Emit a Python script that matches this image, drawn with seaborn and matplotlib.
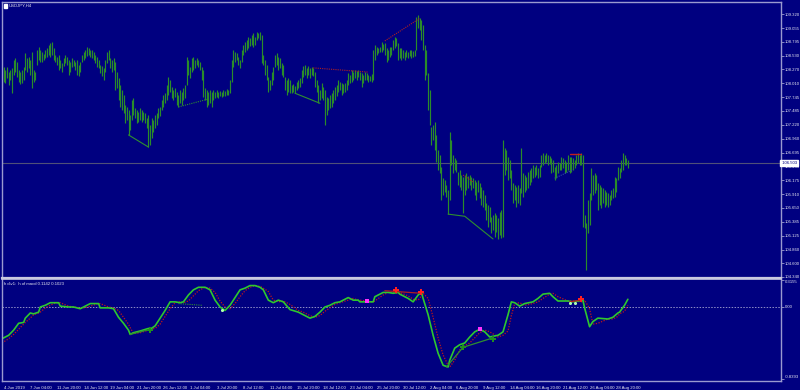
import matplotlib
matplotlib.use("Agg")
import matplotlib.pyplot as plt
import matplotlib.transforms as mtransforms
import numpy as np
import pandas as pd
import seaborn as sns

# ---------------- data ----------------
symbol_title = "USDJPY,H4"
ind_title = "h div1:  h of macd 0.1142 0.1023"

highs = [
108.30,108.32,108.26,108.32,108.22,108.26,108.30,108.45,108.49,108.41,108.26,108.22,
108.26,108.32,108.58,108.49,108.50,108.45,108.60,108.26,108.22,108.64,108.69,108.64,
108.60,108.56,108.64,108.68,108.73,108.77,108.79,108.68,108.54,108.50,108.54,108.45,
108.39,108.49,108.54,108.50,108.45,108.41,108.49,108.45,108.41,108.45,108.35,108.41,
108.54,108.60,108.64,108.69,108.68,108.64,108.64,108.60,108.54,108.50,108.45,108.35,
108.34,108.30,108.45,108.60,108.64,108.49,108.45,108.49,108.41,108.22,108.11,107.98,
107.88,107.79,107.60,107.56,107.50,107.41,107.69,107.73,107.54,107.50,107.46,107.54,
107.50,107.46,107.44,107.35,107.41,107.22,107.35,107.31,107.41,107.44,107.54,107.56,
107.69,107.79,107.82,107.98,108.13,108.07,107.94,107.88,107.92,107.84,107.79,107.88,
107.84,107.92,107.98,108.50,108.45,108.32,108.49,108.50,108.45,108.49,108.45,108.41,
108.32,108.26,107.92,107.88,107.84,107.88,107.84,107.88,107.84,107.88,107.84,107.86,
107.84,107.88,107.86,107.90,107.88,108.07,108.45,108.64,108.60,108.58,108.50,108.45,
108.64,108.73,108.79,108.83,108.88,108.86,108.92,108.96,108.88,108.98,108.96,108.98,
108.92,108.54,108.45,108.35,108.13,108.07,108.22,108.32,108.54,108.58,108.50,108.49,
108.39,108.35,108.13,108.07,108.11,108.07,107.98,107.99,107.96,108.03,108.07,108.11,
108.26,108.34,108.35,108.30,108.34,108.30,108.32,108.30,108.22,108.07,107.98,107.88,
108.01,107.94,107.88,107.75,107.73,107.79,107.82,107.88,107.94,107.98,108.07,108.03,
108.01,107.99,108.01,108.07,108.20,108.16,108.26,108.22,108.26,108.24,108.26,108.22,
108.20,108.16,108.22,108.20,108.16,108.15,108.18,108.64,108.73,108.69,108.68,108.69,
108.79,108.75,108.77,108.68,108.64,108.69,108.69,108.83,108.88,108.86,108.77,108.68,
108.68,108.64,108.60,108.64,108.60,108.64,108.64,108.62,108.64,109.26,109.30,109.24,
109.21,109.11,108.73,108.64,108.20,107.88,107.18,107.22,107.27,107.03,106.74,106.65,
106.42,106.21,106.18,106.08,105.99,107.09,106.93,106.65,106.59,106.55,106.33,106.37,
106.27,106.23,106.27,106.31,106.25,106.27,106.23,106.21,106.18,106.14,106.18,106.12,
106.04,105.99,105.89,105.74,105.70,105.66,105.48,105.51,105.55,105.51,105.46,105.57,
105.61,106.93,106.78,106.74,106.61,106.55,106.37,106.12,106.08,106.04,106.08,106.02,
106.78,106.31,106.27,106.23,106.33,106.37,106.40,106.46,106.42,106.46,106.40,106.46,
106.65,106.69,106.65,106.69,106.65,106.63,106.59,106.55,106.42,106.46,106.52,106.50,
106.61,106.59,106.55,106.52,106.65,106.61,106.61,106.59,106.55,106.65,106.69,106.65,
106.69,106.65,105.51,105.36,105.80,105.93,106.40,106.27,106.31,106.27,106.12,106.08,
106.04,106.02,105.99,105.95,105.93,105.89,105.99,106.02,106.23,106.21,106.42,106.40,
106.55,106.69,106.65,106.59,106.55,
]

lows = [
107.92,108.03,108.01,108.11,107.98,108.07,107.82,108.16,108.22,108.13,108.03,107.99,
108.01,108.07,108.26,108.22,108.30,108.16,107.92,108.03,108.07,108.35,108.45,108.41,
108.41,108.45,108.49,108.50,108.54,108.50,108.54,108.45,108.41,108.35,108.26,108.30,
108.22,108.34,108.39,108.35,108.16,108.22,108.32,108.34,108.26,108.16,108.15,108.22,
108.41,108.45,108.49,108.52,108.54,108.50,108.49,108.45,108.39,108.32,108.30,108.20,
108.15,108.07,108.22,108.39,108.45,108.30,108.22,108.26,107.88,107.92,107.69,107.56,
107.50,107.44,107.25,107.31,107.03,107.12,107.31,107.41,107.35,107.25,107.27,107.31,
107.27,107.31,107.25,107.16,106.80,106.84,106.97,107.09,107.16,107.22,107.35,107.39,
107.50,107.56,107.63,107.69,107.79,107.84,107.73,107.69,107.75,107.60,107.56,107.63,
107.60,107.69,107.73,107.98,108.16,108.11,108.22,108.26,108.30,108.35,108.32,108.26,
108.07,107.75,107.69,107.56,107.60,107.63,107.56,107.69,107.73,107.75,107.73,107.77,
107.75,107.77,107.77,107.79,107.79,107.82,108.03,108.32,108.41,108.45,108.35,108.30,
108.41,108.54,108.60,108.64,108.68,108.71,108.73,108.69,108.73,108.83,108.86,108.83,
108.39,108.35,108.16,108.07,107.84,107.88,107.98,108.07,108.32,108.35,108.26,108.30,
108.16,108.13,107.88,107.79,107.84,107.82,107.82,107.84,107.82,107.88,107.92,107.94,
108.01,108.13,108.16,108.11,108.16,108.11,108.16,108.15,107.94,107.84,107.63,107.69,
107.73,107.69,107.22,107.41,107.50,107.54,107.56,107.63,107.69,107.77,107.84,107.88,
107.79,107.82,107.84,107.88,107.98,108.01,108.03,108.07,108.11,108.07,108.13,108.07,
107.94,108.01,108.07,108.07,108.03,108.05,108.03,108.07,108.45,108.54,108.58,108.60,
108.60,108.64,108.54,108.41,108.45,108.50,108.54,108.64,108.68,108.71,108.45,108.49,
108.45,108.49,108.45,108.50,108.49,108.52,108.49,108.50,108.52,108.64,109.05,109.02,
108.83,108.64,108.07,108.16,107.50,107.22,106.84,106.93,106.74,106.52,106.37,106.31,
105.80,105.89,105.95,105.85,105.53,105.80,106.46,106.31,106.37,106.33,106.08,106.04,
105.99,105.55,105.89,105.99,106.02,106.08,105.99,106.02,105.89,105.80,105.95,105.83,
105.70,105.66,105.61,105.42,105.29,105.38,105.17,105.23,105.10,105.19,105.06,105.13,
105.08,105.10,106.27,106.37,106.18,106.21,105.99,105.74,105.80,105.66,105.74,105.70,
105.93,105.85,105.95,105.99,106.02,106.08,106.14,106.21,106.23,106.27,106.21,106.23,
106.42,106.46,106.50,106.52,106.46,106.48,106.31,106.33,106.18,106.21,106.31,106.37,
106.37,106.40,106.31,106.33,106.37,106.31,106.33,106.37,106.40,106.46,106.50,106.46,
106.46,105.29,105.27,104.47,105.17,105.32,105.80,105.89,105.93,105.99,105.61,105.70,
105.65,105.74,105.66,105.70,105.66,105.70,105.80,105.83,105.85,105.95,106.18,106.21,
106.33,106.37,106.46,106.46,106.40,
]

last_price = 106.50
last_price_label = "106.503"

price_ticks = [109.320, 109.055, 108.795, 108.530, 108.270, 108.010, 107.745,
               107.485, 107.220, 106.960, 106.695, 106.435, 106.175, 105.910,
               105.650, 105.385, 105.125, 104.860, 104.600, 104.340]

x_tick_labels = ["4 Jun 2019", "7 Jun 04:00", "11 Jun 20:00", "14 Jun 12:00",
                 "19 Jun 04:00", "21 Jun 20:00", "26 Jun 12:00", "1 Jul 04:00",
                 "3 Jul 20:00", "8 Jul 12:00", "11 Jul 04:00", "15 Jul 20:00",
                 "18 Jul 12:00", "23 Jul 04:00", "25 Jul 20:00", "30 Jul 12:00",
                 "2 Aug 04:00", "6 Aug 20:00", "9 Aug 12:00", "14 Aug 04:00",
                 "16 Aug 20:00", "21 Aug 12:00", "26 Aug 04:00", "28 Aug 20:00"]
bars_per_label = 16

ind_bars = [0,4,7,10,13,14,17,19,22,23,26,29,31,34,35,40,43,47,50,53,58,59,64,67,70,73,76,77,
            79,83,88,89,92,95,98,101,104,107,109,112,115,118,122,125,128,131,134,137,140,143,
            146,149,152,155,157,160,163,166,169,173,178,181,185,188,191,194,197,200,203,208,211,
            214,215,223,224,229,232,235,238,239,244,247,250,252,253,256,259,262,265,268,269,272,
            275,278,281,284,287,290,293,298,301,304,306,308,311,314,319,322,325,329,331,334,340,
            343,349,350,353,355,358,364,367,370,371,374,376]
ind_main = [-0.37,-0.33,-0.27,-0.19,-0.18,-0.13,-0.07,-0.08,-0.06,0.00,0.02,0.05,0.05,0.05,0.01,
            0.00,0.00,-0.02,0.01,0.04,0.04,-0.01,-0.01,-0.02,-0.12,-0.19,-0.27,-0.32,-0.30,-0.28,
            -0.25,-0.26,-0.22,-0.13,-0.04,0.06,0.06,0.05,0.06,0.14,0.20,0.23,0.23,0.20,0.08,0.00,
            -0.04,0.02,0.11,0.20,0.22,0.25,0.25,0.23,0.20,0.08,0.05,0.08,0.06,-0.03,-0.06,-0.09,
            -0.13,-0.11,-0.06,0.00,0.02,0.05,0.06,0.11,0.08,0.08,0.06,0.06,0.12,0.17,0.17,0.16,
            0.17,0.15,0.10,0.06,0.14,0.17,0.10,-0.09,-0.33,-0.54,-0.68,-0.70,-0.62,-0.48,-0.44,
            -0.42,-0.35,-0.29,-0.26,-0.29,-0.35,-0.33,-0.29,-0.09,0.06,0.05,0.01,0.04,0.06,0.10,
            0.15,0.16,0.12,0.07,0.07,0.06,0.08,-0.01,-0.23,-0.17,-0.13,-0.14,-0.12,-0.07,-0.06,
            0.02,0.09]
ind_signal = [-0.42,-0.37,-0.32,-0.26,-0.20,-0.18,-0.13,-0.09,-0.07,-0.06,-0.01,0.02,0.04,0.05,
              0.05,0.01,0.00,-0.01,-0.01,0.01,0.04,0.04,0.00,-0.01,-0.04,-0.12,-0.20,-0.24,-0.31,
              -0.30,-0.27,-0.26,-0.25,-0.20,-0.11,-0.02,0.05,0.06,0.05,0.07,0.13,0.19,0.23,0.22,
              0.17,0.07,0.00,-0.02,0.04,0.12,0.19,0.23,0.25,0.24,0.22,0.18,0.08,0.06,0.07,0.03,
              -0.04,-0.06,-0.10,-0.12,-0.10,-0.05,-0.01,0.03,0.05,0.08,0.10,0.08,0.08,0.06,0.07,
              0.14,0.17,0.17,0.16,0.17,0.13,0.09,0.08,0.13,0.16,0.10,-0.12,-0.36,-0.56,-0.68,
              -0.70,-0.62,-0.50,-0.45,-0.42,-0.36,-0.30,-0.27,-0.29,-0.35,-0.33,-0.28,-0.10,0.04,
              0.05,0.02,0.04,0.06,0.10,0.15,0.16,0.12,0.07,0.07,0.06,0.08,-0.02,-0.20,-0.19,
              -0.14,-0.14,-0.11,-0.08,-0.05,0.02]
ind_ticks = [0.3155, 0.0, -0.8393]
ind_tick_labels = ["0.3155", "0.00", "-0.8393"]

# divergence lines (bar, value)
main_div_green = [[(76, 107.03), (88, 106.80)],
                  [(176, 107.82), (191, 107.63)],
                  [(268, 105.53), (278, 105.49), (295, 105.06)]]
main_div_green_dotted = [[(106, 107.56), (124, 107.71)]]
main_div_red_dotted = [[(187, 108.30), (220, 108.22)],
                       [(230, 108.81), (251, 109.24)],
                       [(277, 106.27), (283, 106.14)]]
main_div_red = [[(341, 106.67), (348, 106.67)]]
main_div_blue_dotted = [[(332, 106.21), (343, 106.37)]]

ind_div_red = [[(230, 0.19), (252, 0.16)], [(341, 0.06), (348, 0.08)]]
ind_div_green = [[(77, -0.32), (89, -0.26)],
                 [(267, -0.70), (277, -0.47), (295, -0.36)]]
ind_div_green_dotted = [[(106, 0.04), (120, 0.02)]]

sell_marks = [(237, 0.20), (252, 0.18), (348, 0.09)]
buy_marks = [(89, -0.27), (277, -0.47), (295, -0.37)]
pink_marks = [(219, 0.07), (287, -0.26)]
light_marks = [(132, -0.04), (341, 0.05), (344, 0.05)]

# ---------------- style ----------------
NAVY = "#000080"
AXC = "#9a9ad0"
TXT = "#e6e6f0"
BAR = "#2a8c2a"
FS = 3.1

sns.set_theme(style="white")
plt.rcParams.update({
    "font.family": ["Liberation Sans", "DejaVu Sans"],
    "axes.facecolor": NAVY,
    "figure.facecolor": NAVY,
    "savefig.facecolor": NAVY,
})

W, H = 800, 390
fig = plt.figure(figsize=(W / 100, H / 100), dpi=100)

def fx(px):
    return px / W

def fy(py):
    return 1 - py / H

left_px, right_px = 1.5, 781
ax = fig.add_axes([fx(left_px), fy(277.5), fx(right_px - left_px), fy(1.5) - fy(277.5)])
ax2 = fig.add_axes([fx(left_px), fy(381), fx(right_px - left_px), fy(279) - fy(381)], sharex=ax)

n = len(highs)
bars_x = np.arange(n)

# price bars
ax.vlines(bars_x, lows, highs, color=BAR, lw=0.85)
ax.set_xlim(-0.3, 468)
ax.set_ylim(104.33, 109.557)

# last price line
ax.axhline(last_price, color="#505078", lw=0.8, zorder=1)

def draw_segments(axis, segs, color, ls="-", lw=0.8):
    for seg in segs:
        df = pd.DataFrame(seg, columns=["x", "y"])
        sns.lineplot(data=df, x="x", y="y", ax=axis, color=color, lw=lw,
                     linestyle=ls, sort=False, estimator=None)

draw_segments(ax, main_div_green, "#2f8f2f")
draw_segments(ax, main_div_green_dotted, "#2f8f2f", ls=(0, (1, 1)))
draw_segments(ax, main_div_red_dotted, "#b02020", ls=(0, (1, 1)))
draw_segments(ax, main_div_red, "#c02020", lw=1.0)
draw_segments(ax, main_div_blue_dotted, "#3050a0", ls=(0, (1, 1)))

# indicator
ind_df = pd.DataFrame({"bar": ind_bars, "main": ind_main, "signal": ind_signal})
ax2.axhline(0, color="#9090c8", lw=0.7, ls=(0, (1.5, 1.5)))
sns.lineplot(data=ind_df, x="bar", y="signal", ax=ax2, color="#c01818", lw=0.9,
             linestyle=(0, (1, 1.2)), estimator=None)
sns.lineplot(data=ind_df, x="bar", y="main", ax=ax2, color="#2ec82e", lw=1.2, estimator=None)
draw_segments(ax2, ind_div_red, "#b02020", lw=0.9)
draw_segments(ax2, ind_div_green, "#2f8f2f", lw=0.9)
draw_segments(ax2, ind_div_green_dotted, "#2f8f2f", ls=(0, (1, 1)))

def marks(axis, pts, color, marker, size):
    df = pd.DataFrame(pts, columns=["x", "y"])
    sns.scatterplot(data=df, x="x", y="y", ax=axis, color=color, marker=marker,
                    s=size, linewidth=0, zorder=5)

marks(ax2, sell_marks, "#ff2020", "P", 22)
marks(ax2, buy_marks, "#1f8f1f", "P", 22)
marks(ax2, pink_marks, "#ff30ff", "s", 5)
marks(ax2, light_marks, "#b0ffb0", "o", 5)

ax2.set_ylim(-0.8635, 0.3267)

# ---- axes decoration ----
for a in (ax, ax2):
    a.set_xlabel("")
    a.set_ylabel("")
    a.grid(False)
    for s in a.spines.values():
        s.set_color(AXC)
        s.set_linewidth(1.0)
    a.yaxis.tick_right()
    a.tick_params(axis="y", which="both", direction="out", length=2, width=0.6,
                  colors=AXC, labelcolor=TXT, labelsize=FS, pad=0.8)
ax.spines["bottom"].set_color("#c8c8e0")
ax.spines["bottom"].set_linewidth(1.6)
ax2.spines["top"].set_color("#c8c8e0")
ax2.spines["top"].set_linewidth(1.2)

ax.set_yticks(price_ticks)
ax.set_yticklabels([f"{p:.3f}" for p in price_ticks])
ax.tick_params(axis="x", which="both", bottom=False, labelbottom=False)

ax2.set_yticks(ind_ticks)
ax2.set_yticklabels(ind_tick_labels)
ylabs = ax2.get_yticklabels()
ylabs[0].set_verticalalignment("top")
ylabs[-1].set_verticalalignment("bottom")

xt = [i * bars_per_label for i in range(len(x_tick_labels))]
ax2.set_xticks(xt)
ax2.set_xticklabels(x_tick_labels)
ax2.tick_params(axis="x", direction="out", length=2.5, width=0.6, colors=AXC,
                labelcolor=TXT, labelsize=FS, pad=0.8)
offset = mtransforms.ScaledTranslation(1.2 / 72, 0, fig.dpi_scale_trans)
for lab in ax2.get_xticklabels():
    lab.set_horizontalalignment("left")
    lab.set_transform(lab.get_transform() + offset)

# last price box
ax.text(1.0, last_price, " " + last_price_label, transform=ax.get_yaxis_transform(),
        fontsize=FS, color=NAVY, va="center", ha="left", zorder=10, clip_on=False,
        bbox=dict(boxstyle="square,pad=0.15", fc="#ffffff", ec="#ffffff"))

# titles
fig.patches.append(plt.Rectangle((fx(3.5), fy(7.5)), fx(3.5), fy(4.5) - fy(7.5),
                                 transform=fig.transFigure, color="#ffffff"))
fig.text(fx(9), fy(6), symbol_title, color=TXT, fontsize=FS, va="center", ha="left")
fig.text(fx(4), fy(284), ind_title, color=TXT, fontsize=FS, va="center", ha="left")

fig.savefig("out.png", dpi=100, facecolor=NAVY)
